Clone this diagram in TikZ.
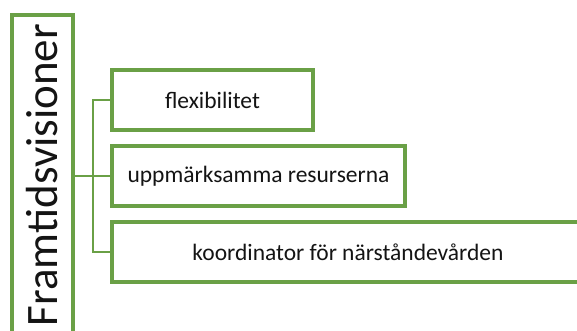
\documentclass[tikz,border=0pt]{standalone}
\usepackage{fontspec}
\setmainfont{Carlito}
\definecolor{leaf}{RGB}{106,160,70}
\definecolor{ink}{RGB}{20,20,20}
\tikzset{
  box/.style={draw=leaf, line width=4pt, fill=white, text=ink, inner sep=0pt, outer sep=0pt},
  childbox/.style={box, minimum height=60pt, font=\fontsize{23.5}{28}\selectfont},
  link/.style={draw=leaf, line width=2.5pt}
}
\begin{document}
\begin{tikzpicture}[x=1pt, y=-1pt]
  \useasboundingbox (0,0) rectangle (577,331);
  \clip (0,0) rectangle (577,331);
  % rotated title panel, running off the bottom edge
  \node[box, rotate=90, minimum width=340pt, minimum height=61pt,
        font=\fontsize{45}{50}\selectfont] (main) at (42.5,185) {\hspace*{20pt}Framtidsvisioner};
  % the three branches
  \node[childbox, minimum width=201pt] (c1) at (212.5,100) {flexibilitet};
  \node[childbox, minimum width=293pt] (c2) at (258.5,176) {uppmärksamma resurserna};
  \node[childbox, minimum width=472pt] (c3) at (348,252) {koordinator för närståndevården};
  % connectors
  \coordinate (hub) at (93,176);
  \draw[link] (hub -| main.south) -- (hub);
  \draw[link] (c1.west) -| (hub) |- (c3.west);
  \draw[link] (hub) -- (c2.west);
\end{tikzpicture}
\end{document}
